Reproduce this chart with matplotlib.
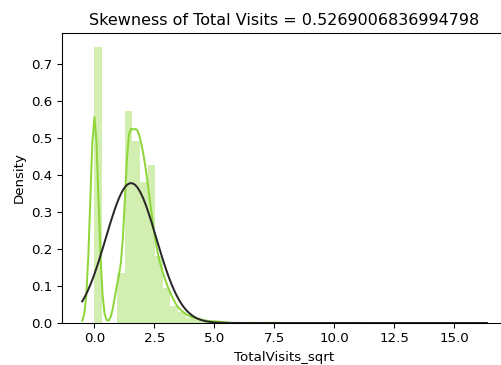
import numpy as np
import matplotlib
matplotlib.use('Agg')
import matplotlib.pyplot as plt

# TotalVisits value counts (nulls filled with the median, 3)
visits = [0, 1, 2, 3, 4, 5, 6, 7, 8, 9, 10, 11, 12, 13, 14, 15, 16, 17, 18, 19,
          20, 21, 22, 23, 24, 25, 26, 27, 28, 29, 30, 32, 41, 42, 43, 54, 55,
          74, 115, 141, 251]
counts = [2189, 395, 1680, 1443, 1120, 783, 466, 309, 224, 164, 114, 86, 45, 48,
          36, 18, 21, 16, 15, 9, 12, 6, 3, 6, 5, 5, 2, 5, 2, 2, 1, 1, 1, 1, 1,
          1, 1, 1, 1, 1, 1]

title = 'Skewness of Total Visits = 0.5269006836994798'
xlabel = 'TotalVisits_sqrt'
color = '#8fd63a'

vals = np.sqrt(np.array(visits, dtype=float))
w = np.array(counts, dtype=float)
a = np.repeat(vals, counts)

# kde support like seaborn (scott bandwidth, cut=3, 200 points)
n = len(a)
bw = n ** (-1 / 5) * a.std(ddof=1)
grid = np.linspace(a.min() - 3 * bw, a.max() + 3 * bw, 200)


def gauss(x, mu, sd):
    return np.exp(-0.5 * ((x - mu) / sd) ** 2) / (sd * np.sqrt(2 * np.pi))


kde = (w[:, None] * gauss(grid[None, :], vals[:, None], bw)).sum(axis=0) / w.sum()
fit = gauss(grid, a.mean(), a.std())

# rendered at 96 dpi so text and lines come out like the notebook picture
dpi = 96
fig = plt.figure(figsize=(501 / dpi, 365 / dpi), dpi=dpi)
ax = fig.add_axes([62 / 501, 42 / 365, 445 / 501, 290 / 365])

ax.hist(a, bins=50, density=True, color=color, alpha=0.4)
ax.plot(grid, kde, color=color, lw=1.5)
ax.plot(grid, fit, color='#282828', lw=1.5)

ax.set_title(title, fontsize=12)
ax.set_xlabel(xlabel)
ax.set_ylabel('Density')

fig.savefig('out.png', dpi=dpi)
